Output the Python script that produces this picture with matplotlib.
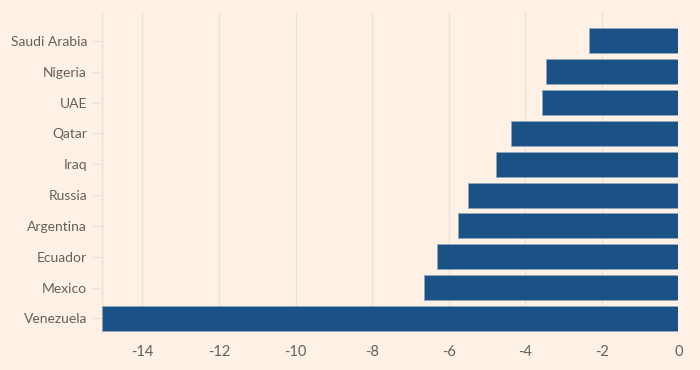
import matplotlib
matplotlib.use('Agg')
import matplotlib.pyplot as plt

# Data
countries = ['Venezuela', 'Mexico', 'Ecuador', 'Argentina', 'Russia',
             'Iraq', 'Qatar', 'UAE', 'Nigeria', 'Saudi Arabia']
values = [-15.05, -6.65, -6.3, -5.75, -5.5, -4.75, -4.38, -3.55, -3.45, -2.32]
xticks = [-14, -12, -10, -8, -6, -4, -2, 0]

bg = '#FFF1E5'
bar_col = '#1A5285'
grid_col = '#ECE2D9'
text_col = '#66605C'

plt.rcParams['font.family'] = ['Lato', 'DejaVu Sans']

fig = plt.figure(figsize=(7, 3.7), dpi=100, facecolor=bg)
ax = fig.add_axes([0.146, 0.1, 0.823, 0.868], facecolor=bg)

ax.barh(range(len(countries)), values, height=0.81, color=bar_col,
        edgecolor='#8FA6BE', linewidth=0.6, zorder=3)

ax.set_xlim(-15.05, 0)
ax.set_ylim(-0.47, 9.94)
ax.set_xticks(xticks)
ax.set_xticklabels([str(t) for t in xticks])
ax.set_yticks(range(len(countries)))
ax.set_yticklabels(countries)

ax.grid(axis='x', color=grid_col, linewidth=1, zorder=0)
for s in ['top', 'right', 'bottom']:
    ax.spines[s].set_visible(False)
ax.spines['left'].set_color(grid_col)
ax.spines['left'].set_linewidth(1)

ax.tick_params(axis='y', length=7.5, color=grid_col, width=1,
               labelcolor=text_col, labelsize=10, pad=3.5)
ax.tick_params(axis='x', length=0, labelcolor=text_col, labelsize=10.5, pad=9)

fig.savefig('out.png', facecolor=bg, dpi=100)
